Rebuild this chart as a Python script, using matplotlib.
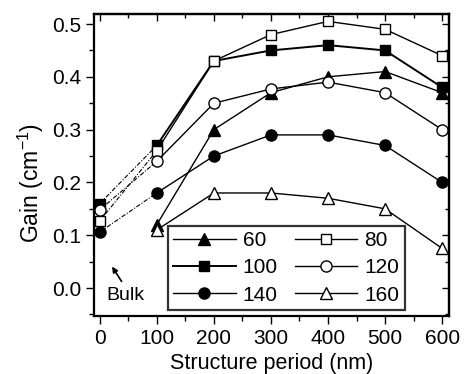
import matplotlib
matplotlib.use("Agg")
import matplotlib.pyplot as plt
from matplotlib.ticker import MultipleLocator, NullFormatter

plt.rcParams["font.family"] = ["Liberation Sans", "DejaVu Sans"]
plt.rcParams["mathtext.fontset"] = "custom"
plt.rcParams["mathtext.rm"] = "Liberation Sans"

# periods (nm) for the structured samples, bulk sits at 0
periodo = [100, 200, 300, 400, 500, 600]
periodo_bulk = [0, 100]

gain_60 = [0.12, 0.30, 0.37, 0.40, 0.41, 0.37]
gain_80 = [0.26, 0.43, 0.48, 0.505, 0.49, 0.44]
gain_100 = [0.27, 0.43, 0.45, 0.46, 0.45, 0.38]
gain_120 = [0.24, 0.35, 0.377, 0.39, 0.37, 0.30]
gain_140 = [0.18, 0.25, 0.29, 0.29, 0.27, 0.20]
gain_160 = [0.11, 0.18, 0.18, 0.17, 0.15, 0.075]

# bulk values (x=0) for the series that have one
bulk_80 = 0.127
bulk_100 = 0.16
bulk_120 = 0.148
bulk_140 = 0.106

fig = plt.figure(figsize=(4.66, 3.74), dpi=100)
ax = fig.add_axes([94/466, 1 - 316/374, (449-94)/466, (316-14)/374])

ms = 7.5
fs = 15
estilos = [
    ("60", gain_60, None, 1.0, dict(marker="^", mfc="black", ms=ms + 1)),
    ("100", gain_100, bulk_100, 1.4, dict(marker="s", mfc="black", ms=ms)),
    ("140", gain_140, bulk_140, 1.0, dict(marker="o", mfc="black", ms=ms + 0.5)),
    ("80", gain_80, bulk_80, 1.0, dict(marker="s", mfc="white", ms=ms)),
    ("120", gain_120, bulk_120, 1.0, dict(marker="o", mfc="white", ms=ms + 0.5)),
    ("160", gain_160, None, 1.0, dict(marker="^", mfc="white", ms=ms + 1)),
]

for nombre, vals, bulk, lw, st in estilos:
    ax.plot(periodo, vals, color="black", lw=lw, mec="black", mew=1.0,
            label=nombre, **st)
    if bulk is not None:
        ax.plot(periodo_bulk, [bulk, vals[0]], color="black", lw=0.8,
                ls=(0, (4, 1.5, 1, 1.5)), zorder=1)
        ax.plot([0], [bulk], ls="none", color="black", mec="black", mew=1.0,
                **st)

ax.annotate("", xy=(19, 0.045), xytext=(41, 0.008),
            arrowprops=dict(arrowstyle="-|>", color="black", lw=1.2,
                            mutation_scale=8))
ax.text(12, -0.014, "Bulk", fontsize=14, va="center", ha="left")

ax.set_xlim(-10, 612)
ax.set_ylim(-0.053, 0.519)
ax.xaxis.set_major_locator(MultipleLocator(100))
ax.xaxis.set_minor_locator(MultipleLocator(50))
ax.yaxis.set_major_locator(MultipleLocator(0.1))
ax.yaxis.set_minor_locator(MultipleLocator(0.05))
ax.yaxis.set_major_formatter(lambda v, p: f"{v:.1f}")
# left/bottom ticks point out, top/right point in
ax.tick_params(which="both", direction="out", labelsize=fs, width=1.0)
ax.tick_params(which="major", length=6, pad=3)
ax.tick_params(which="minor", length=3.5)

arriba = ax.secondary_xaxis("top")
arriba.xaxis.set_major_locator(MultipleLocator(100))
arriba.xaxis.set_minor_locator(MultipleLocator(50))
arriba.xaxis.set_major_formatter(NullFormatter())
derecha = ax.secondary_yaxis("right")
derecha.yaxis.set_major_locator(MultipleLocator(0.1))
derecha.yaxis.set_minor_locator(MultipleLocator(0.05))
derecha.yaxis.set_major_formatter(NullFormatter())
for sec in (arriba, derecha):
    sec.tick_params(which="both", direction="in", width=1.0)
    sec.tick_params(which="major", length=5)
    sec.tick_params(which="minor", length=3)
    for s in sec.spines.values():
        s.set_linewidth(1.6)

for s in ax.spines.values():
    s.set_linewidth(1.6)

ax.set_xlabel("Structure period (nm)", fontsize=fs + 0.5, labelpad=4)
ax.set_ylabel("Gain (cm$^{-1}$)", fontsize=16.5)
ax.yaxis.set_label_coords(-0.135, 0.44)

leg = ax.legend(ncol=2, loc="lower left", bbox_to_anchor=(0.208, 0.02),
                fontsize=fs, frameon=True, fancybox=False, edgecolor="black",
                handlelength=3.0, handletextpad=0.35, columnspacing=0.8,
                labelspacing=0.4, borderpad=0.25, borderaxespad=0)
leg.get_frame().set_linewidth(1.6)

fig.savefig("out.png", dpi=100)
